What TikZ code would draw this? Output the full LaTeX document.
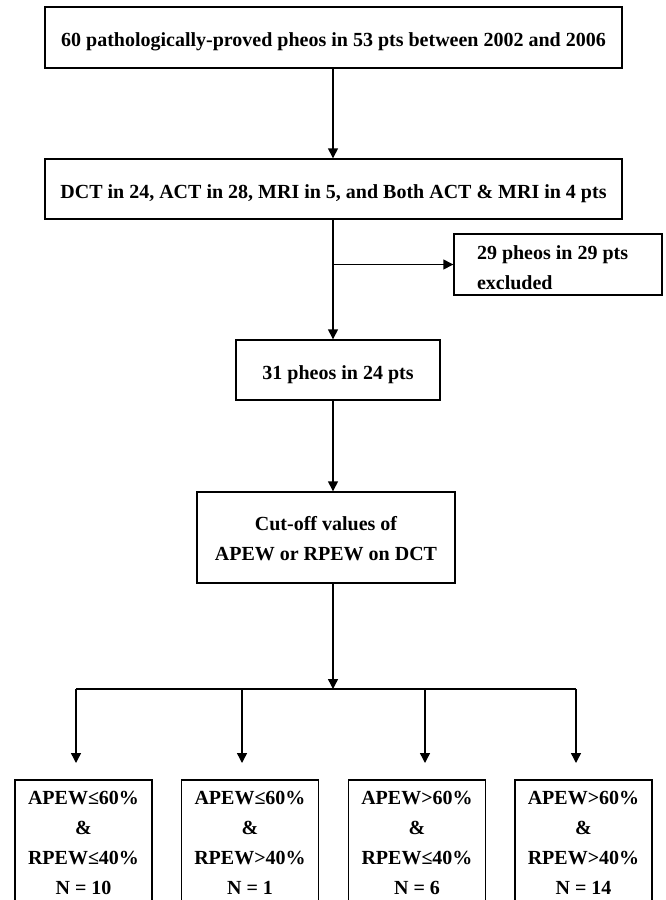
\documentclass[tikz,border=0pt]{standalone}
\usepackage{fontspec}
\setmainfont{Liberation Serif}
\usetikzlibrary{positioning, calc, arrows.meta}
\tikzset{box/.style={draw, line width=1.4pt, inner sep=0pt, font=\fontsize{20}{30}\selectfont\bfseries}}
\tikzset{arr/.style={line width=1.4pt, -{Triangle[length=10pt, width=10pt]}}}
\tikzset{link/.style={line width=1.4pt}}
\tikzset{group/.style={box, text width=137, align=flush center, text height=24, text depth=106}}

\begin{document}
\begin{tikzpicture}[x=1pt, y=-1pt]
  \useasboundingbox (0,0) rectangle (665,900);
  \clip (0,0) rectangle (665,900);

  \node[box, minimum width=577, text height=39, text depth=22] (b0) at (333.5,37.5)
    {60 pathologically-proved pheos in 53 pts between 2002 and 2006};
  \node[box, minimum width=577, text height=39, text depth=21] (b1) at (333.5,189)
    {DCT in 24, ACT in 28, MRI in 5, and Both ACT \& MRI in 4 pts};
  \node[box, text width=162, inner xsep=23pt, align=flush left,
        text height=25, text depth=36] (ex) at (558,264.5)
    {29 pheos in 29 pts\\excluded};
  \node[box, minimum width=204, text height=39, text depth=21] (b2) at (338,370)
    {31 pheos in 24 pts};
  \node[box, text width=258, align=flush center, text height=38, text depth=53] (b3) at (326,537.5)
    {Cut-off values of\\APEW or RPEW on DCT};

  % four groups
  \node[group] (r0) at (83.5,845)  {APEW≤60\%\\\&\\RPEW≤40\%\\N = 10};
  \node[group] (r1) at (250,845)   {APEW≤60\%\\\&\\RPEW>40\%\\N = 1};
  \node[group] (r2) at (417,845)   {APEW>60\%\\\&\\RPEW≤40\%\\N = 6};
  \node[group] (r3) at (583.5,845) {APEW>60\%\\\&\\RPEW>40\%\\N = 14};

  \coordinate (split) at (333,689);
  \coordinate (jn) at (split |- ex.west);
  \coordinate (a0) at (76,763);
  \coordinate (a1) at (242,763);
  \coordinate (a2) at (425,763);
  \coordinate (a3) at (576,763);

  \draw[arr] (b0.south -| split) -- (b1.north -| split);
  \draw[arr] (b1.south -| split) -- (b2.north -| split);
  \draw[arr] (jn) -- (ex.west);
  \draw[arr] (b2.south -| split) -- (b3.north -| split);
  \draw[arr] (b3.south -| split) -- (split);
  \draw[link] (split -| a0) -- (split -| a3);
  \draw[arr] (split -| a0) -- (a0);
  \draw[arr] (split -| a1) -- (a1);
  \draw[arr] (split -| a2) -- (a2);
  \draw[arr] (split -| a3) -- (a3);
\end{tikzpicture}
\end{document}
